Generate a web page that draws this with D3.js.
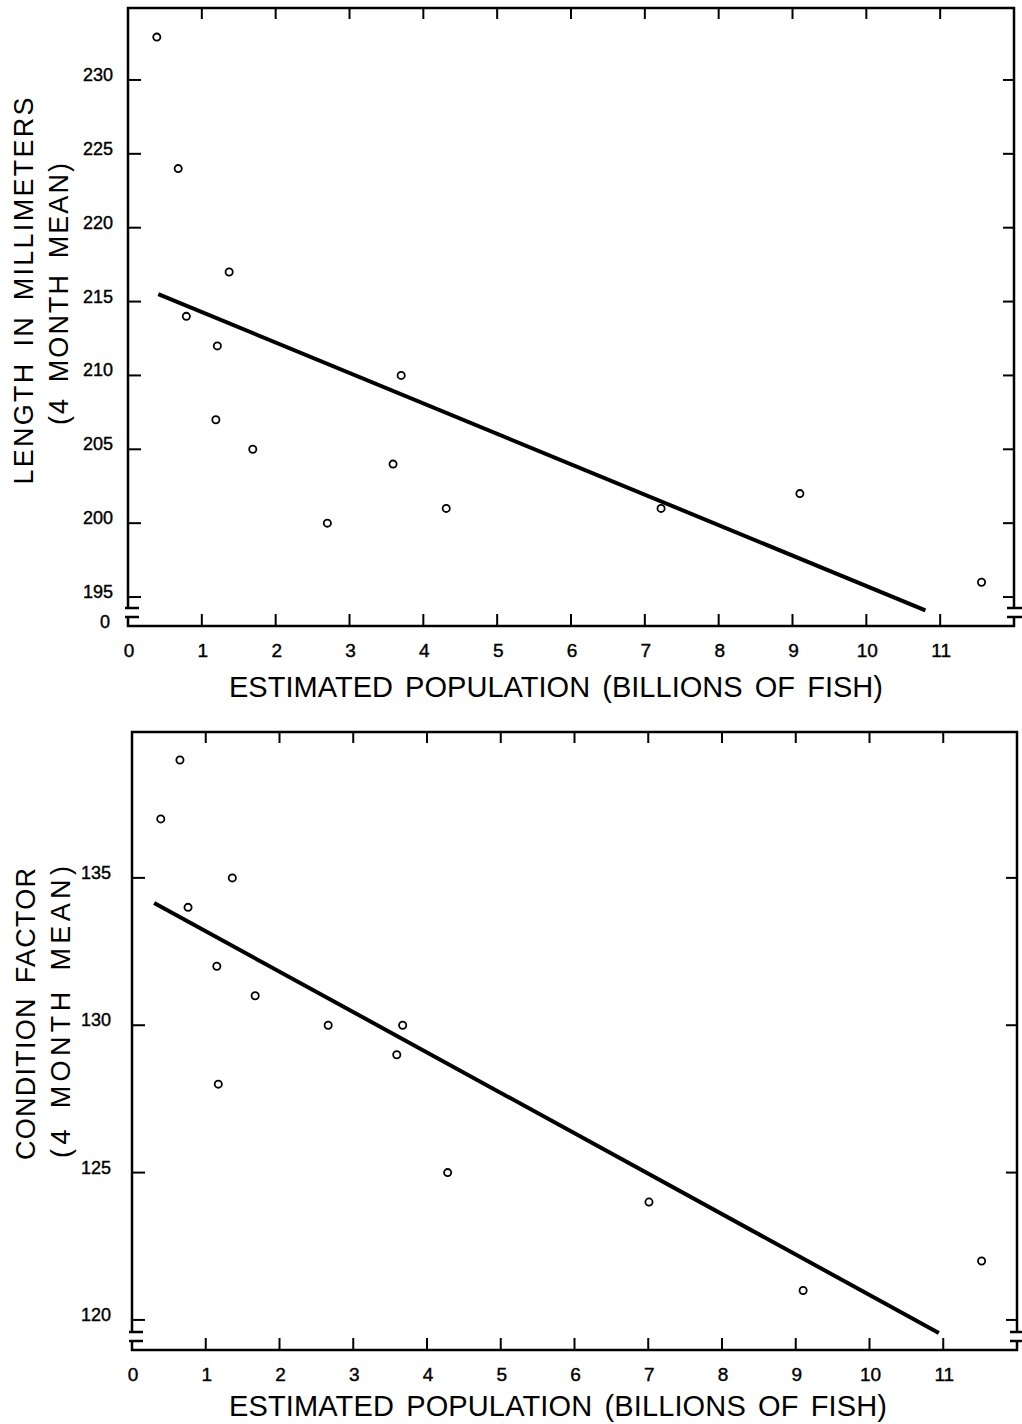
<!DOCTYPE html>
<html>
<head>
<meta charset="utf-8">
<script src="https://cdn.jsdelivr.net/npm/d3@7"></script>
<style>
  body { margin: 0; background: #fff; }
  svg text { font-family: "Liberation Sans", Arial, sans-serif; fill: #000; }
</style>
</head>
<body>
<div id="vis"></div>
<script>
// values
var xTicks = [0, 1, 2, 3, 4, 5, 6, 7, 8, 9, 10, 11];

// upper panel: length
var popTop = [0.39, 0.68, 0.79, 1.37, 1.21, 1.19, 1.69, 2.70, 3.70, 3.59, 4.31, 7.22, 9.10, 11.56];
var lengthMm = [232.9, 224, 214, 217, 212, 207, 205, 200, 210, 204, 201, 201, 202, 196];
var lengthFitX = [0.41, 10.8];
var lengthFitY = [215.5, 194.1];
var lengthTicks = [195, 200, 205, 210, 215, 220, 225, 230];

// lower panel: condition factor
var popBottom = [0.39, 0.65, 0.76, 1.36, 1.15, 1.17, 1.67, 2.66, 3.67, 3.59, 4.28, 7.01, 9.10, 11.52];
var conditionFactor = [137, 139, 134, 135, 132, 128, 131, 130, 130, 129, 125, 124, 121, 122];
var conditionFitX = [0.30, 10.94];
var conditionFitY = [134.15, 119.56];
var conditionTicks = [120, 125, 130, 135];

var svg = d3.select('#vis')
  .append('svg')
  .attr('width', 1022)
  .attr('height', 1424);

function panel(opt) {
  var g = svg.append('g');
  var x = d3.scaleLinear().domain([0, 12]).range(opt.xRange);
  var y = d3.scaleLinear().domain(opt.yDomain).range(opt.yRange);
  var left = x(0), right = x(12), top = y.range()[1], bottom = y.range()[0];

  // frame
  g.append('rect')
    .attr('x', left).attr('y', top)
    .attr('width', right - left).attr('height', bottom - top)
    .attr('fill', 'none').attr('stroke', '#000').attr('stroke-width', 2.5);

  // y ticks, left and right
  g.selectAll('.yt').data(opt.yTicks).enter().append('line')
    .attr('x1', left).attr('x2', left + 13)
    .attr('y1', function (d) { return y(d); }).attr('y2', function (d) { return y(d); })
    .attr('stroke', '#000').attr('stroke-width', 2);
  g.selectAll('.yr').data(opt.yTicks).enter().append('line')
    .attr('x1', right).attr('x2', right - 11)
    .attr('y1', function (d) { return y(d); }).attr('y2', function (d) { return y(d); })
    .attr('stroke', '#000').attr('stroke-width', 2);
  g.selectAll('.yl').data(opt.yTicks).enter().append('text')
    .attr('x', opt.yLabelX)
    .attr('y', function (d) { return y(d) + 1; })
    .attr('text-anchor', 'end')
    .attr('font-size', '18px')
    .attr('stroke', '#000').attr('stroke-width', 0.4)
    .text(function (d) { return d; });

  // x ticks, bottom and top
  var inner = xTicks.filter(function (d) { return d > 0; });
  g.selectAll('.xb').data(inner).enter().append('line')
    .attr('x1', function (d) { return x(d); }).attr('x2', function (d) { return x(d); })
    .attr('y1', bottom).attr('y2', bottom - 12)
    .attr('stroke', '#000').attr('stroke-width', 2);
  g.selectAll('.xt').data(inner).enter().append('line')
    .attr('x1', function (d) { return x(d); }).attr('x2', function (d) { return x(d); })
    .attr('y1', top).attr('y2', top + 11)
    .attr('stroke', '#000').attr('stroke-width', 2);
  g.selectAll('.xl').data(xTicks).enter().append('text')
    .attr('x', function (d) { return x(d) + 1; })
    .attr('y', bottom + 31)
    .attr('text-anchor', 'middle')
    .attr('font-size', '19px')
    .attr('stroke', '#000').attr('stroke-width', 0.4)
    .text(function (d) { return d; });

  // axis breaks on both sides
  [left, right].forEach(function (px) {
    g.append('rect')
      .attr('x', px - 3).attr('y', bottom - 17)
      .attr('width', 6).attr('height', 7)
      .attr('fill', '#fff');
    [bottom - 18, bottom - 9].forEach(function (py) {
      g.append('line')
        .attr('x1', px === left ? px - 3 : px - 7)
        .attr('x2', px === left ? px + 11 : px + 8)
        .attr('y1', py).attr('y2', py)
        .attr('stroke', '#000').attr('stroke-width', 2.5);
    });
  });
  if (opt.zeroLabel) {
    g.append('text')
      .attr('x', opt.yLabelX - 3).attr('y', bottom + 2)
      .attr('text-anchor', 'end')
      .attr('font-size', '18px')
      .attr('stroke', '#000').attr('stroke-width', 0.4)
      .text('0');
  }

  // fitted line
  var fit = opt.fitX.map(function (d, i) { return [d, opt.fitY[i]]; });
  g.append('path')
    .datum(fit)
    .attr('d', d3.line()
      .x(function (d) { return x(d[0]); })
      .y(function (d) { return y(d[1]); }))
    .attr('fill', 'none')
    .attr('stroke', '#000')
    .attr('stroke-width', 4);

  // observations
  g.selectAll('.pt').data(opt.xs).enter().append('circle')
    .attr('cx', function (d) { return x(d); })
    .attr('cy', function (d, i) { return y(opt.ys[i]); })
    .attr('r', 3.6)
    .attr('fill', 'none')
    .attr('stroke', '#000')
    .attr('stroke-width', 1.8);

  // titles
  g.append('text')
    .attr('x', 229).attr('y', opt.xTitleY)
    .attr('font-size', '29px')
    .attr('word-spacing', '4px')
    .attr('textLength', opt.xTitleLen)
    .attr('lengthAdjust', 'spacing')
    .text('ESTIMATED POPULATION (BILLIONS OF FISH)');

  opt.yTitles.forEach(function (t) {
    g.append('text')
      .attr('transform', 'translate(' + t.x + ',' + t.y + ') rotate(-90)')
      .attr('text-anchor', 'middle')
      .attr('font-size', '27px')
      .attr('word-spacing', '5px')
      .attr('textLength', t.len)
      .attr('lengthAdjust', 'spacing')
      .text(t.text);
  });
}

panel({
  xRange: [128, 1014],
  yDomain: [193.04, 234.87],
  yRange: [626, 8],
  yTicks: lengthTicks,
  yLabelX: 113,
  zeroLabel: true,
  xs: popTop, ys: lengthMm,
  fitX: lengthFitX, fitY: lengthFitY,
  xTitleY: 697, xTitleLen: 654,
  yTitles: [
    {text: 'LENGTH IN MILLIMETERS', x: 33, y: 291, len: 387},
    {text: '(4 MONTH MEAN)', x: 68, y: 294, len: 262}
  ]
});

panel({
  xRange: [132, 1017],
  yDomain: [118.98, 139.95],
  yRange: [1350, 732],
  yTicks: conditionTicks,
  yLabelX: 111,
  zeroLabel: false,
  xs: popBottom, ys: conditionFactor,
  fitX: conditionFitX, fitY: conditionFitY,
  xTitleY: 1416, xTitleLen: 658,
  yTitles: [
    {text: 'CONDITION FACTOR', x: 35, y: 1014, len: 292},
    {text: '(4 MONTH MEAN)', x: 70, y: 1012, len: 292}
  ]
});
</script>
</body>
</html>
